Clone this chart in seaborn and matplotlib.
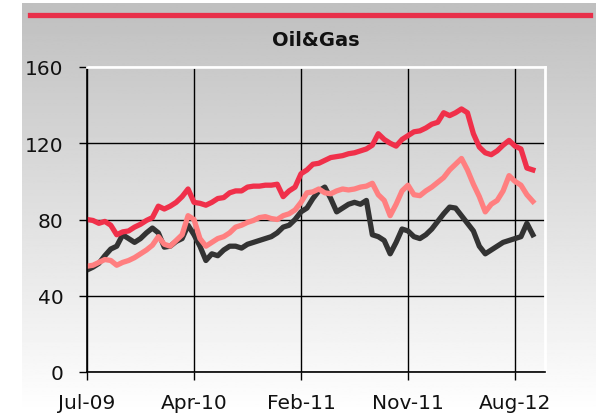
import numpy as np
import pandas as pd
import matplotlib
matplotlib.use("Agg")
import matplotlib.pyplot as plt
from matplotlib.lines import Line2D
import seaborn as sns

# Data (one point roughly every two weeks)
TICK_LABELS = ["Jul-09", "Apr-10", "Feb-11", "Nov-11", "Aug-12"]
TICK_STEP = 18

red_series = [80, 79.5, 78, 79, 77, 72, 73.5, 74, 76, 77.5, 79.5, 81, 87, 85.5, 87, 89, 92, 96,
              89, 88.5, 87.5, 89, 91, 91.5, 94, 95, 95, 97, 97.5, 97.5, 98, 98, 98.5, 92, 95, 97,
              104, 106, 109, 109.5, 111, 112.5, 113, 113.5, 114.5, 115, 116, 117, 119, 125, 122, 120,
              118.5, 122, 124, 126, 126.5, 128, 130, 131, 136, 134.5, 136, 138, 136, 125, 118, 115,
              114, 116, 119, 121.5, 118.5, 117, 107, 106]
salmon_series = [55.5, 56, 57.5, 59, 58.5, 56, 57.5, 58.5, 60, 62, 64, 66.5, 71, 67, 66, 69, 72, 82,
                 80, 70, 66, 68, 70, 71, 73, 76, 77, 78.5, 79.5, 81, 81.5, 80.5, 80, 82, 83, 85,
                 89, 94, 94.5, 96, 94, 93.5, 95, 96, 95.5, 96, 97, 97.5, 99, 93, 90, 82,
                 88, 95, 98, 93, 92.5, 95, 97, 99.5, 102, 106, 109, 112, 106, 98.5, 92, 84,
                 88, 90, 95, 103, 100, 98, 93, 89.5]
black_series = [53.5, 55, 57, 61, 64.5, 66, 72, 70, 68, 70, 73, 75.5, 73, 65.5, 66, 68.5, 70, 77,
                72, 66, 58.5, 62, 61, 64, 66, 66, 65, 67, 68, 69, 70, 71, 73, 76, 77, 80,
                84, 86, 91, 95, 97, 91, 84, 86, 88, 89, 88, 90, 72, 71, 69, 62,
                68, 75, 74, 71, 70, 72, 75, 79, 83, 86.5, 86, 82, 78, 74, 66, 62,
                64, 66, 68, 69, 70, 71, 78, 72]

COLORS = {"black": "#333333", "salmon": "#ff7f80", "red": "#f0304a"}

n = len(red_series)
df = pd.DataFrame({
    "idx": np.arange(n),
    "black": black_series,
    "salmon": salmon_series,
    "red": red_series,
})
df_long = df.melt(id_vars="idx", var_name="series", value_name="value")

W, H = 596, 414
fig = plt.figure(figsize=(W / 100, H / 100), dpi=100)
fig.patch.set_facecolor("white")

# gray gradient panel behind everything
bg = fig.add_axes([22 / W, 0, 1 - 22 / W, (H - 4) / H], zorder=0)
grad = np.linspace(0.75, 1.0, 256).reshape(-1, 1)
bg.imshow(grad, aspect="auto", cmap="gray", vmin=0, vmax=1, extent=[0, 1, 0, 1])
bg.set_axis_off()

# red rule at the top
fig.add_artist(Line2D([30 / W, 590 / W], [1 - 15.5 / H] * 2, color="#e8304a", lw=3.8))

fig.text(316 / W, 1 - 41 / H, "Oil&Gas", ha="center", va="center",
         fontsize=14, fontweight="bold", color="#111111")

ax = fig.add_axes([87 / W, 41 / H, (545 - 87) / W, (373 - 68) / H], zorder=1)
ax.set_facecolor("none")

sns.lineplot(data=df_long, x="idx", y="value", hue="series", palette=COLORS,
             hue_order=["black", "salmon", "red"], linewidth=3.8, legend=False, ax=ax)

ax.set_xlim(0, (545 - 87) / 107 * TICK_STEP)
ax.set_ylim(0, 160)
ax.set_yticks([0, 40, 80, 120, 160])
ax.set_xticks(np.arange(len(TICK_LABELS)) * TICK_STEP)
ax.set_xticklabels(TICK_LABELS)
ax.set_xlabel("")
ax.set_ylabel("")
ax.grid(True, color="black", lw=1)
ax.set_axisbelow(True)
ax.tick_params(axis="both", labelsize=14.5, length=6, width=1, color="black",
               labelcolor="#111111")
ax.tick_params(axis="y", pad=11)
ax.tick_params(axis="x", pad=9)
for side in ["left", "bottom"]:
    ax.spines[side].set_color("black")
    ax.spines[side].set_linewidth(1.2)
for side in ["top", "right"]:
    ax.spines[side].set_color("white")
    ax.spines[side].set_linewidth(2)

plt.savefig("out.png", dpi=100)
